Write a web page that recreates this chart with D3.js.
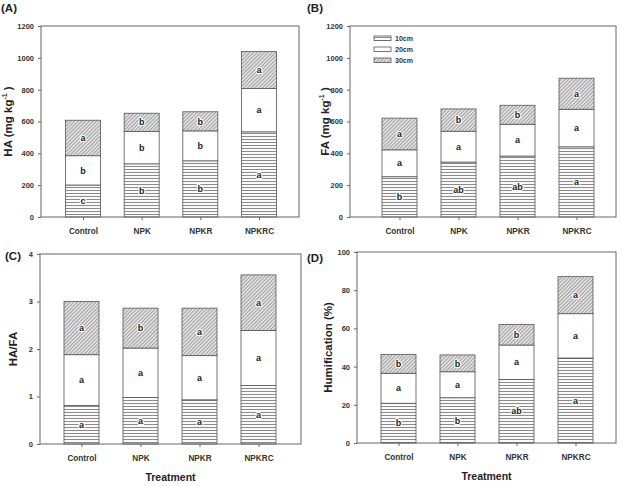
<!DOCTYPE html>
<html><head><meta charset="utf-8">
<script src="https://cdn.jsdelivr.net/npm/d3@7"></script>
<style>body{margin:0;background:#fff}svg{display:block}text{font-family:"Liberation Sans",Arial,sans-serif}</style>
</head><body>
<svg id="c" width="622" height="486"></svg>
<script>
const categories = ["Control","NPK","NPKR","NPKRC"];
const depths = ["10cm","20cm","30cm"];
// cumulative tops per depth (stack tops), per panel
const haTops10 = [201, 334, 353, 535];
const haTops20 = [385, 538, 541, 807];
const haTops30 = [608, 652, 661, 1039];
const haLetters = [["c","b","a"],["b","b","b"],["b","b","b"],["a","a","a"]];
const faTops10 = [253, 345, 383, 441];
const faTops20 = [422, 539, 583, 677];
const faTops30 = [621, 679, 702, 872];
const faLetters = [["b","a","a"],["ab","a","b"],["ab","a","b"],["a","a","a"]];
const ratioTops10 = [0.81, 0.98, 0.93, 1.23];
const ratioTops20 = [1.88, 2.02, 1.86, 2.39];
const ratioTops30 = [3.00, 2.86, 2.86, 3.56];
const ratioLetters = [["a","a","a"],["a","a","b"],["a","a","a"],["a","a","a"]];
const humTops10 = [20.8, 23.7, 33.3, 44.5];
const humTops20 = [36.5, 37.3, 51.3, 67.7];
const humTops30 = [46.4, 46.1, 62.1, 87.1];
const humLetters = [["b","a","b"],["b","a","b"],["ab","a","b"],["a","a","a"]];
const haTicks = [0,200,400,600,800,1000,1200];
const faTicks = [0,200,400,600,800,1000,1200];
const ratioTicks = [0,1,2,3,4];
const humTicks = [0,20,40,60,80,100];

const svg = d3.select("#c");
const defs = svg.append("defs");
const ph = defs.append("pattern").attr("id","hz").attr("patternUnits","userSpaceOnUse").attr("width",6).attr("height",3);
ph.append("rect").attr("width",6).attr("height",3).attr("fill","#fff");
ph.append("line").attr("x1",0).attr("x2",6).attr("y1",1.5).attr("y2",1.5).attr("stroke","#8c8c8c").attr("stroke-width",1.1);
const pd = defs.append("pattern").attr("id","dg").attr("patternUnits","userSpaceOnUse").attr("width",2.6).attr("height",6).attr("patternTransform","rotate(45)");
pd.append("rect").attr("width",2.6).attr("height",6).attr("fill","#ececec");
pd.append("line").attr("x1",0.6).attr("x2",0.6).attr("y1",0).attr("y2",6).attr("stroke","#9a9a9a").attr("stroke-width",1.1);
const fills = ["url(#hz)","#fff","url(#dg)"];

const panels = [
  {label:"(A)", lx:1, ly:12, tops:[haTops10,haTops20,haTops30], letters:haLetters, ticks:haTicks, max:1200,
   box:{l:41,r:299,t:26,b:217}, c0:83, c1:259, title:"HA", unit:true, tx:12, xt:false},
  {label:"(B)", lx:307, ly:12, tops:[faTops10,faTops20,faTops30], letters:faLetters, ticks:faTicks, max:1200,
   box:{l:350,r:616,t:26,b:217}, c0:399.5, c1:576.5, title:"FA", unit:true, tx:329, xt:false, legend:true},
  {label:"(C)", lx:5, ly:260, tops:[ratioTops10,ratioTops20,ratioTops30], letters:ratioLetters, ticks:ratioTicks, max:4,
   box:{l:40,r:301,t:254,b:444}, c0:81.5, c1:258.5, title:"HA/FA", unit:false, tx:17, xt:true},
  {label:"(D)", lx:307, ly:262, tops:[humTops10,humTops20,humTops30], letters:humLetters, ticks:humTicks, max:100,
   box:{l:357,r:616,t:252,b:443}, c0:398.5, c1:575.5, title:"Humification (%)", unit:false, tx:332, xt:true}
];

const bw = 35;
panels.forEach(p => {
  const g = svg.append("g");
  const x = d3.scalePoint().domain(categories).range([p.c0, p.c1]);
  const y = d3.scaleLinear().domain([0, p.max]).range([p.box.b, p.box.t]);
  // bars
  categories.forEach((c, i) => {
    for (let d = 0; d < 3; d++) {
      const lo = d === 0 ? 0 : p.tops[d-1][i];
      const hi = p.tops[d][i];
      g.append("rect").attr("x", x(c) - bw/2).attr("width", bw)
        .attr("y", y(hi)).attr("height", y(lo) - y(hi))
        .attr("fill", fills[d]).attr("stroke", "#555").attr("stroke-width", 0.8);
    }
  });
  categories.forEach((c, i) => {
    for (let d = 0; d < 3; d++) {
      const lo = d === 0 ? 0 : p.tops[d-1][i];
      const hi = p.tops[d][i];
      g.append("text").attr("x", x(c)).attr("y", (y(lo) + y(hi))/2 + 3.2)
        .attr("text-anchor","middle").attr("font-size",9).attr("font-weight","bold").attr("fill","#222")
        .attr("stroke","#fff").attr("stroke-width",2.2).attr("paint-order","stroke").attr("stroke-linejoin","round")
        .text(p.letters[i][d]);
    }
  });
  // frame
  g.append("rect").attr("x",p.box.l).attr("y",p.box.t).attr("width",p.box.r-p.box.l).attr("height",p.box.b-p.box.t)
    .attr("fill","none").attr("stroke","#666").attr("stroke-width",1);
  // axes
  const ya = g.append("g").attr("transform",`translate(${p.box.l},0)`)
    .call(d3.axisLeft(y).tickValues(p.ticks).tickSize(3).tickPadding(4).tickFormat(d3.format("d")));
  ya.select(".domain").remove();
  ya.selectAll("line").attr("stroke","#666");
  ya.selectAll("text").attr("font-size",7.5).attr("font-weight","bold").attr("fill","#333").attr("font-family","Liberation Sans, Arial, sans-serif");
  const xa = g.append("g").attr("transform",`translate(0,${p.box.b})`)
    .call(d3.axisBottom(x).tickSize(3).tickPadding(8));
  xa.select(".domain").remove();
  xa.selectAll("line").attr("stroke","#666");
  xa.selectAll("text").attr("font-size",8.2).attr("font-weight","bold").attr("fill","#333").attr("font-family","Liberation Sans, Arial, sans-serif");
  // panel label
  g.append("text").attr("x",p.lx).attr("y",p.ly).attr("font-size",11.5).attr("font-weight","bold").attr("fill","#222").text(p.label);
  // y title
  const cy = (p.box.t + p.box.b)/2;
  const yt = g.append("text").attr("transform",`translate(${p.tx},${cy}) rotate(-90)`)
    .attr("text-anchor","middle").attr("font-size",11.5).attr("font-weight","bold").attr("fill","#222");
  if (p.unit) {
    yt.append("tspan").text(p.title + " (mg kg");
    yt.append("tspan").attr("font-size",7).attr("dy",-5).text("-1");
    yt.append("tspan").attr("dy",5).text(" )");
  } else {
    yt.text(p.title);
  }
  if (p.xt) {
    g.append("text").attr("x",(p.box.l+p.box.r)/2).attr("y",p.box.b+37).attr("text-anchor","middle")
      .attr("font-size",10.5).attr("font-weight","bold").attr("fill","#222").text("Treatment");
  }
  if (p.legend) {
    depths.forEach((d, k) => {
      const ly = 36 + k*11;
      g.append("rect").attr("x",374).attr("y",ly).attr("width",17).attr("height",4.5)
        .attr("fill",fills[k]).attr("stroke","#555").attr("stroke-width",0.8);
      g.append("text").attr("x",395).attr("y",ly+5).attr("font-size",7).attr("font-weight","bold").attr("fill","#333").text(d);
    });
  }
});
</script>
</body></html>
